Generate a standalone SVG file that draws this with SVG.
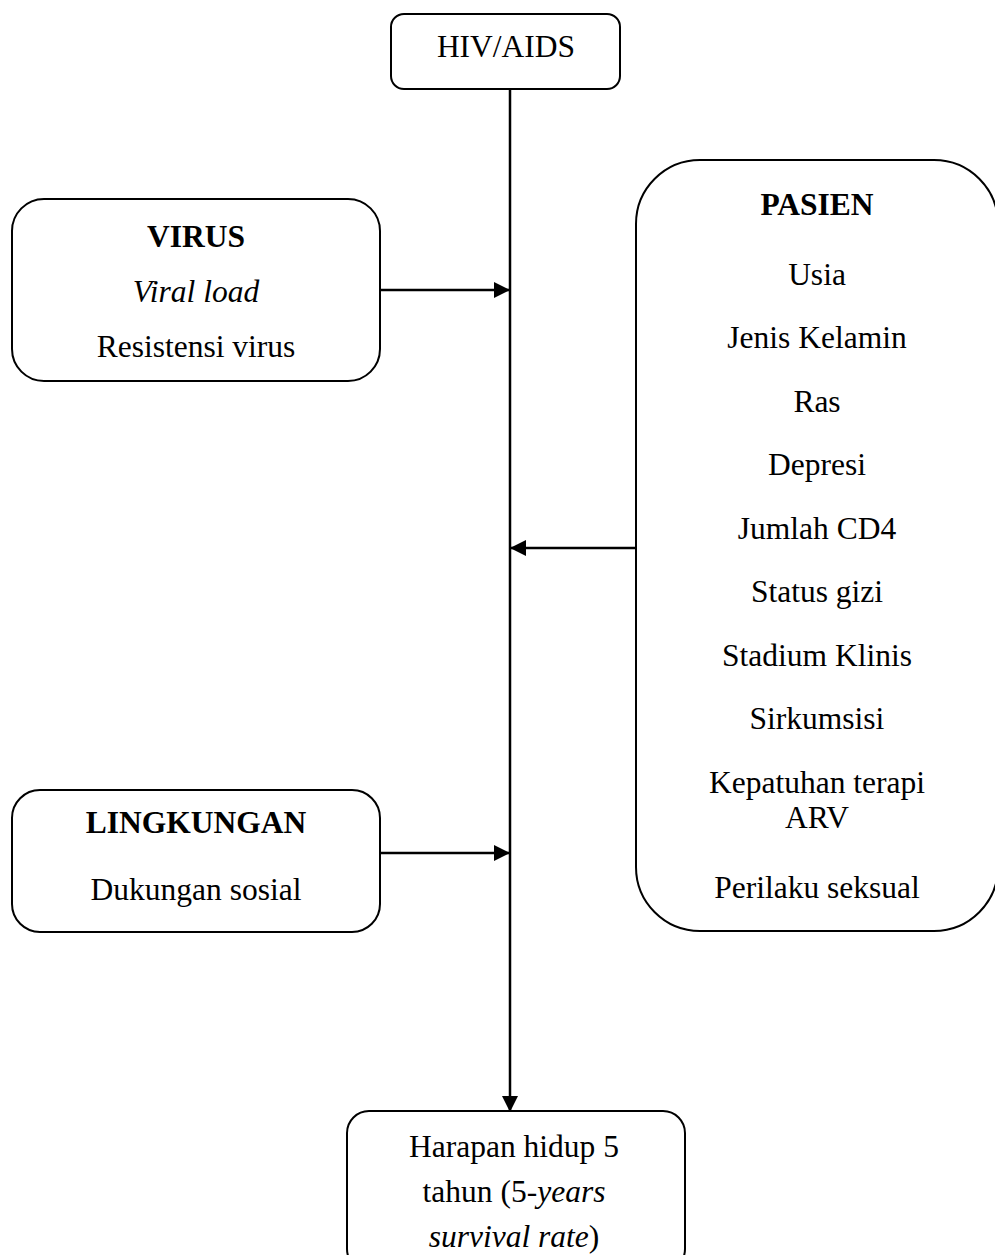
<svg xmlns="http://www.w3.org/2000/svg" width="995" height="1255" viewBox="0 0 995 1255">
<defs>
<marker id="ah" markerWidth="16" markerHeight="16" viewBox="0 0 16 16" refX="15" refY="8" orient="auto" markerUnits="userSpaceOnUse">
<path d="M0,0 L16,8 L0,16 Z" fill="#000"/>
</marker>
<style>
.box{fill:#fff;stroke:#000;stroke-width:2}
.t{font-family:"Liberation Serif","Times New Roman",serif;font-size:31.5px;fill:#000;text-anchor:middle}
.b{font-weight:bold}
.i{font-style:italic}
.c{stroke:#000;stroke-width:2.5;fill:none}
</style>
</defs>
<rect width="995" height="1255" fill="#fff"/>
<g id="connectors">
<line class="c" x1="510" y1="89" x2="510" y2="1111" marker-end="url(#ah)"/>
<line class="c" x1="380" y1="290" x2="509" y2="290" marker-end="url(#ah)"/>
<line class="c" x1="380" y1="853" x2="509" y2="853" marker-end="url(#ah)"/>
<line class="c" x1="636" y1="548" x2="511" y2="548" marker-end="url(#ah)"/>
</g>
<g id="hiv">
<rect class="box" x="391" y="14" width="229" height="75" rx="13"/>
<text class="t" x="506" y="57">HIV/AIDS</text>
</g>
<g id="virus">
<rect class="box" x="12" y="199" width="368" height="182" rx="32"/>
<text class="t b" x="196" y="247">VIRUS</text>
<text class="t i" x="196" y="302">Viral load</text>
<text class="t" x="196" y="357">Resistensi virus</text>
</g>
<g id="pasien">
<rect class="box" x="636" y="160" width="362" height="771" rx="64"/>
<text class="t b" x="817" y="215">PASIEN</text>
<text class="t" x="817" y="285">Usia</text>
<text class="t" x="817" y="348">Jenis Kelamin</text>
<text class="t" x="817" y="412">Ras</text>
<text class="t" x="817" y="475">Depresi</text>
<text class="t" x="817" y="539">Jumlah CD4</text>
<text class="t" x="817" y="602">Status gizi</text>
<text class="t" x="817" y="666">Stadium Klinis</text>
<text class="t" x="817" y="729">Sirkumsisi</text>
<text class="t" x="817" y="793">Kepatuhan terapi</text>
<text class="t" x="817" y="828">ARV</text>
<text class="t" x="817" y="898">Perilaku seksual</text>
</g>
<g id="lingkungan">
<rect class="box" x="12" y="790" width="368" height="142" rx="28"/>
<text class="t b" x="196" y="833">LINGKUNGAN</text>
<text class="t" x="196" y="900">Dukungan sosial</text>
</g>
<g id="harapan">
<rect class="box" x="347" y="1111" width="338" height="160" rx="22"/>
<text class="t" x="514" y="1157">Harapan hidup 5</text>
<text class="t" x="514" y="1202">tahun (5-<tspan class="i">years</tspan></text>
<text class="t" x="514" y="1247"><tspan class="i">survival rate</tspan>)</text>
</g>
</svg>
